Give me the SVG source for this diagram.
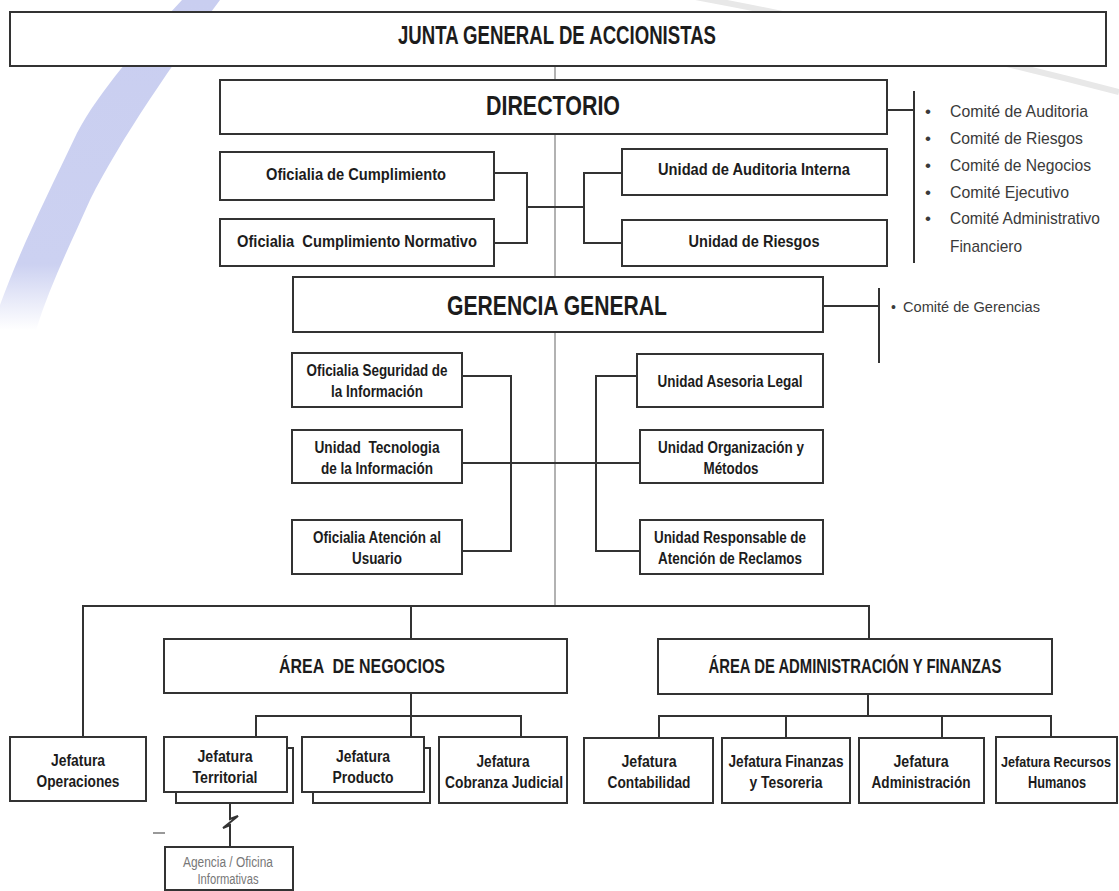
<svg xmlns="http://www.w3.org/2000/svg" width="1119" height="891" viewBox="0 0 1119 891">
<defs>
<linearGradient id="fade" x1="0" y1="0" x2="0" y2="1">
<stop offset="0" stop-color="#c9cef0"/>
<stop offset="0.8" stop-color="#ccd1f1"/>
<stop offset="1" stop-color="#ccd1f1" stop-opacity="0"/>
</linearGradient>
</defs>
<style>
.box{fill:#fff;stroke:#333;stroke-width:2}
.ln{fill:none;stroke:#333;stroke-width:2}
.cl{fill:none;stroke:#999;stroke-width:1.5}
.t{font-family:"Liberation Sans Narrow","Liberation Sans",Arial,sans-serif;font-weight:bold;fill:#1c1c1c;text-anchor:middle;font-size:16px}
.c{font-family:"Liberation Sans Narrow","Liberation Sans",Arial,sans-serif;fill:#3a3a3a;font-size:17px}
.g{font-family:"Liberation Sans Narrow","Liberation Sans",Arial,sans-serif;fill:#777;font-size:14px;text-anchor:middle}
</style>
<rect width="1119" height="891" fill="#fff"/>
<g id="background">
<path d="M182,0 L220,0 C175,60 120,140 90,200 C70,245 50,285 36,330 L0,330 L0,305 C20,250 45,200 77,133 C100,90 140,45 182,0 Z" fill="url(#fade)"/>
<path d="M690,-4 Q900,35 1119,92" fill="none" stroke="#e8e8e8" stroke-width="6"/>
</g>
<g id="connectors">
<path class="cl" d="M555,66 V80 M555,134 V277 M555,332 V606"/>
<path class="ln" d="M494,173 H527 V243 H494 M527,207 H584 M622,173 H584 V243 H622"/>
<path class="ln" d="M887,110 H914 M914,91 V263"/>
<path class="ln" d="M823,306 H879 M879,288 V363"/>
<path class="ln" d="M462,376 H511 V551 H462 M462,463 H640 M637,376 H596 V551 H640"/>
<path class="ln" d="M83,737 V606 H869 V639 M411,606 V639"/>
<path class="ln" d="M411,693 V740 M256,740 V716 H521 V740"/>
<path class="ln" d="M868,694 V716 M659,738 V716 H1051 V738 M786,716 V738 M942,716 V738"/>
<path class="ln" d="M230,803 V819 L238,816 L223,828 L230,825 V847" stroke-width="1.8"/>
<path d="M153,833 H165" stroke="#777" stroke-width="1.5"/>
</g>
<g id="junta">
<rect class="box" x="10" y="12" width="1096" height="54"/>
<text class="t" x="557" y="44" style="font-size:25px" textLength="318" lengthAdjust="spacingAndGlyphs">JUNTA GENERAL DE ACCIONISTAS</text>
</g>
<g id="directorio">
<rect class="box" x="220" y="80" width="667" height="54"/>
<text class="t" x="553" y="115" style="font-size:28px" textLength="134" lengthAdjust="spacingAndGlyphs">DIRECTORIO</text>
</g>
<g id="comites-directorio">
<text class="c" x="925" y="117">•</text><text class="c" x="950" y="117" textLength="138" lengthAdjust="spacingAndGlyphs">Comité de Auditoria</text>
<text class="c" x="925" y="144">•</text><text class="c" x="950" y="144" textLength="133" lengthAdjust="spacingAndGlyphs">Comité de Riesgos</text>
<text class="c" x="925" y="171">•</text><text class="c" x="950" y="171" textLength="141" lengthAdjust="spacingAndGlyphs">Comité de Negocios</text>
<text class="c" x="925" y="198">•</text><text class="c" x="950" y="198" textLength="119" lengthAdjust="spacingAndGlyphs">Comité Ejecutivo</text>
<text class="c" x="925" y="224">•</text><text class="c" x="950" y="224" textLength="150" lengthAdjust="spacingAndGlyphs">Comité Administrativo</text>
<text class="c" x="950" y="252" textLength="72" lengthAdjust="spacingAndGlyphs">Financiero</text>
</g>
<g id="oficialia-cumplimiento">
<rect class="box" x="220" y="152" width="274" height="48"/>
<text class="t" x="356" y="180" textLength="180" lengthAdjust="spacingAndGlyphs">Oficialia de Cumplimiento</text>
</g>
<g id="oficialia-normativo">
<rect class="box" x="220" y="219" width="274" height="47"/>
<text class="t" x="357" y="247" textLength="240" lengthAdjust="spacingAndGlyphs" xml:space="preserve">Oficialia  Cumplimiento Normativo</text>
</g>
<g id="auditoria-interna">
<rect class="box" x="622" y="149" width="265" height="46"/>
<text class="t" x="754" y="175" textLength="192" lengthAdjust="spacingAndGlyphs">Unidad de Auditoria Interna</text>
</g>
<g id="unidad-riesgos">
<rect class="box" x="622" y="220" width="265" height="46"/>
<text class="t" x="754" y="247" textLength="131" lengthAdjust="spacingAndGlyphs">Unidad de Riesgos</text>
</g>
<g id="gerencia-general">
<rect class="box" x="293" y="277" width="530" height="55"/>
<text class="t" x="557" y="315" style="font-size:27px" textLength="220" lengthAdjust="spacingAndGlyphs">GERENCIA GENERAL</text>
</g>
<g id="comite-gerencias">
<text class="c" x="891" y="312" style="font-size:14px">•</text>
<text class="c" x="903" y="312" style="font-size:15px" textLength="137" lengthAdjust="spacingAndGlyphs">Comité de Gerencias</text>
</g>
<g id="seguridad-informacion">
<rect class="box" x="292" y="353" width="170" height="54"/>
<text class="t" x="377" y="376" textLength="141" lengthAdjust="spacingAndGlyphs">Oficialia Seguridad de</text>
<text class="t" x="377" y="397" textLength="92" lengthAdjust="spacingAndGlyphs">la Información</text>
</g>
<g id="tecnologia-informacion">
<rect class="box" x="292" y="430" width="170" height="53"/>
<text class="t" x="377" y="453" textLength="125" lengthAdjust="spacingAndGlyphs" xml:space="preserve">Unidad  Tecnologia</text>
<text class="t" x="377" y="474" textLength="112" lengthAdjust="spacingAndGlyphs">de la Información</text>
</g>
<g id="atencion-usuario">
<rect class="box" x="292" y="520" width="170" height="54"/>
<text class="t" x="377" y="543" textLength="128" lengthAdjust="spacingAndGlyphs">Oficialia Atención al</text>
<text class="t" x="377" y="564" textLength="50" lengthAdjust="spacingAndGlyphs">Usuario</text>
</g>
<g id="asesoria-legal">
<rect class="box" x="637" y="354" width="186" height="53"/>
<text class="t" x="730" y="387" textLength="145" lengthAdjust="spacingAndGlyphs">Unidad Asesoria Legal</text>
</g>
<g id="organizacion-metodos">
<rect class="box" x="640" y="430" width="183" height="53"/>
<text class="t" x="731" y="453" textLength="146" lengthAdjust="spacingAndGlyphs">Unidad Organización y</text>
<text class="t" x="731" y="474" textLength="55" lengthAdjust="spacingAndGlyphs">Métodos</text>
</g>
<g id="atencion-reclamos">
<rect class="box" x="640" y="520" width="183" height="54"/>
<text class="t" x="730" y="543" textLength="152" lengthAdjust="spacingAndGlyphs">Unidad Responsable de</text>
<text class="t" x="730" y="564" textLength="144" lengthAdjust="spacingAndGlyphs">Atención de Reclamos</text>
</g>
<g id="area-negocios">
<rect class="box" x="164" y="639" width="403" height="54"/>
<text class="t" x="362" y="673" style="font-size:20px" textLength="166" lengthAdjust="spacingAndGlyphs" xml:space="preserve">ÁREA  DE NEGOCIOS</text>
</g>
<g id="area-administracion">
<rect class="box" x="658" y="639" width="394" height="55"/>
<text class="t" x="855" y="673" style="font-size:20px" textLength="293" lengthAdjust="spacingAndGlyphs">ÁREA DE ADMINISTRACIÓN Y FINANZAS</text>
</g>
<g id="jefatura-operaciones">
<rect class="box" x="10" y="737" width="136" height="64"/>
<text class="t" x="78" y="766" textLength="54" lengthAdjust="spacingAndGlyphs">Jefatura</text>
<text class="t" x="78" y="787" textLength="83" lengthAdjust="spacingAndGlyphs">Operaciones</text>
</g>
<g id="jefatura-territorial">
<rect class="box" x="176" y="748" width="117" height="55"/>
<rect class="box" x="164" y="737" width="123" height="55"/>
<text class="t" x="225" y="762" textLength="55" lengthAdjust="spacingAndGlyphs">Jefatura</text>
<text class="t" x="225" y="783" textLength="65" lengthAdjust="spacingAndGlyphs">Territorial</text>
</g>
<g id="jefatura-producto">
<rect class="box" x="313" y="748" width="117" height="55"/>
<rect class="box" x="302" y="737" width="122" height="55"/>
<text class="t" x="363" y="762" textLength="54" lengthAdjust="spacingAndGlyphs">Jefatura</text>
<text class="t" x="363" y="783" textLength="61" lengthAdjust="spacingAndGlyphs">Producto</text>
</g>
<g id="jefatura-cobranza">
<rect class="box" x="439" y="737" width="128" height="66"/>
<text class="t" x="503" y="767" textLength="53" lengthAdjust="spacingAndGlyphs">Jefatura</text>
<text class="t" x="504" y="788" textLength="118" lengthAdjust="spacingAndGlyphs">Cobranza Judicial</text>
</g>
<g id="jefatura-contabilidad">
<rect class="box" x="584" y="738" width="129" height="65"/>
<text class="t" x="649" y="767" textLength="55" lengthAdjust="spacingAndGlyphs">Jefatura</text>
<text class="t" x="649" y="788" textLength="83" lengthAdjust="spacingAndGlyphs">Contabilidad</text>
</g>
<g id="jefatura-finanzas">
<rect class="box" x="722" y="738" width="128" height="65"/>
<text class="t" x="786" y="767" textLength="115" lengthAdjust="spacingAndGlyphs">Jefatura Finanzas</text>
<text class="t" x="786" y="788" textLength="73" lengthAdjust="spacingAndGlyphs">y Tesoreria</text>
</g>
<g id="jefatura-administracion">
<rect class="box" x="859" y="738" width="125" height="65"/>
<text class="t" x="921" y="767" textLength="55" lengthAdjust="spacingAndGlyphs">Jefatura</text>
<text class="t" x="921" y="788" textLength="99" lengthAdjust="spacingAndGlyphs">Administración</text>
</g>
<g id="jefatura-rrhh">
<rect class="box" x="996" y="737" width="121" height="66"/>
<text class="t" x="1056" y="767" style="font-size:15px" textLength="110" lengthAdjust="spacingAndGlyphs">Jefatura Recursos</text>
<text class="t" x="1057" y="788" textLength="58" lengthAdjust="spacingAndGlyphs">Humanos</text>
</g>
<g id="agencia-oficina">
<rect class="box" x="165" y="847" width="128" height="43" stroke-width="1.8"/>
<text class="g" x="228" y="867" textLength="90" lengthAdjust="spacingAndGlyphs">Agencia / Oficina</text>
<text class="g" x="228" y="884" textLength="61" lengthAdjust="spacingAndGlyphs">Informativas</text>
</g>
</svg>
